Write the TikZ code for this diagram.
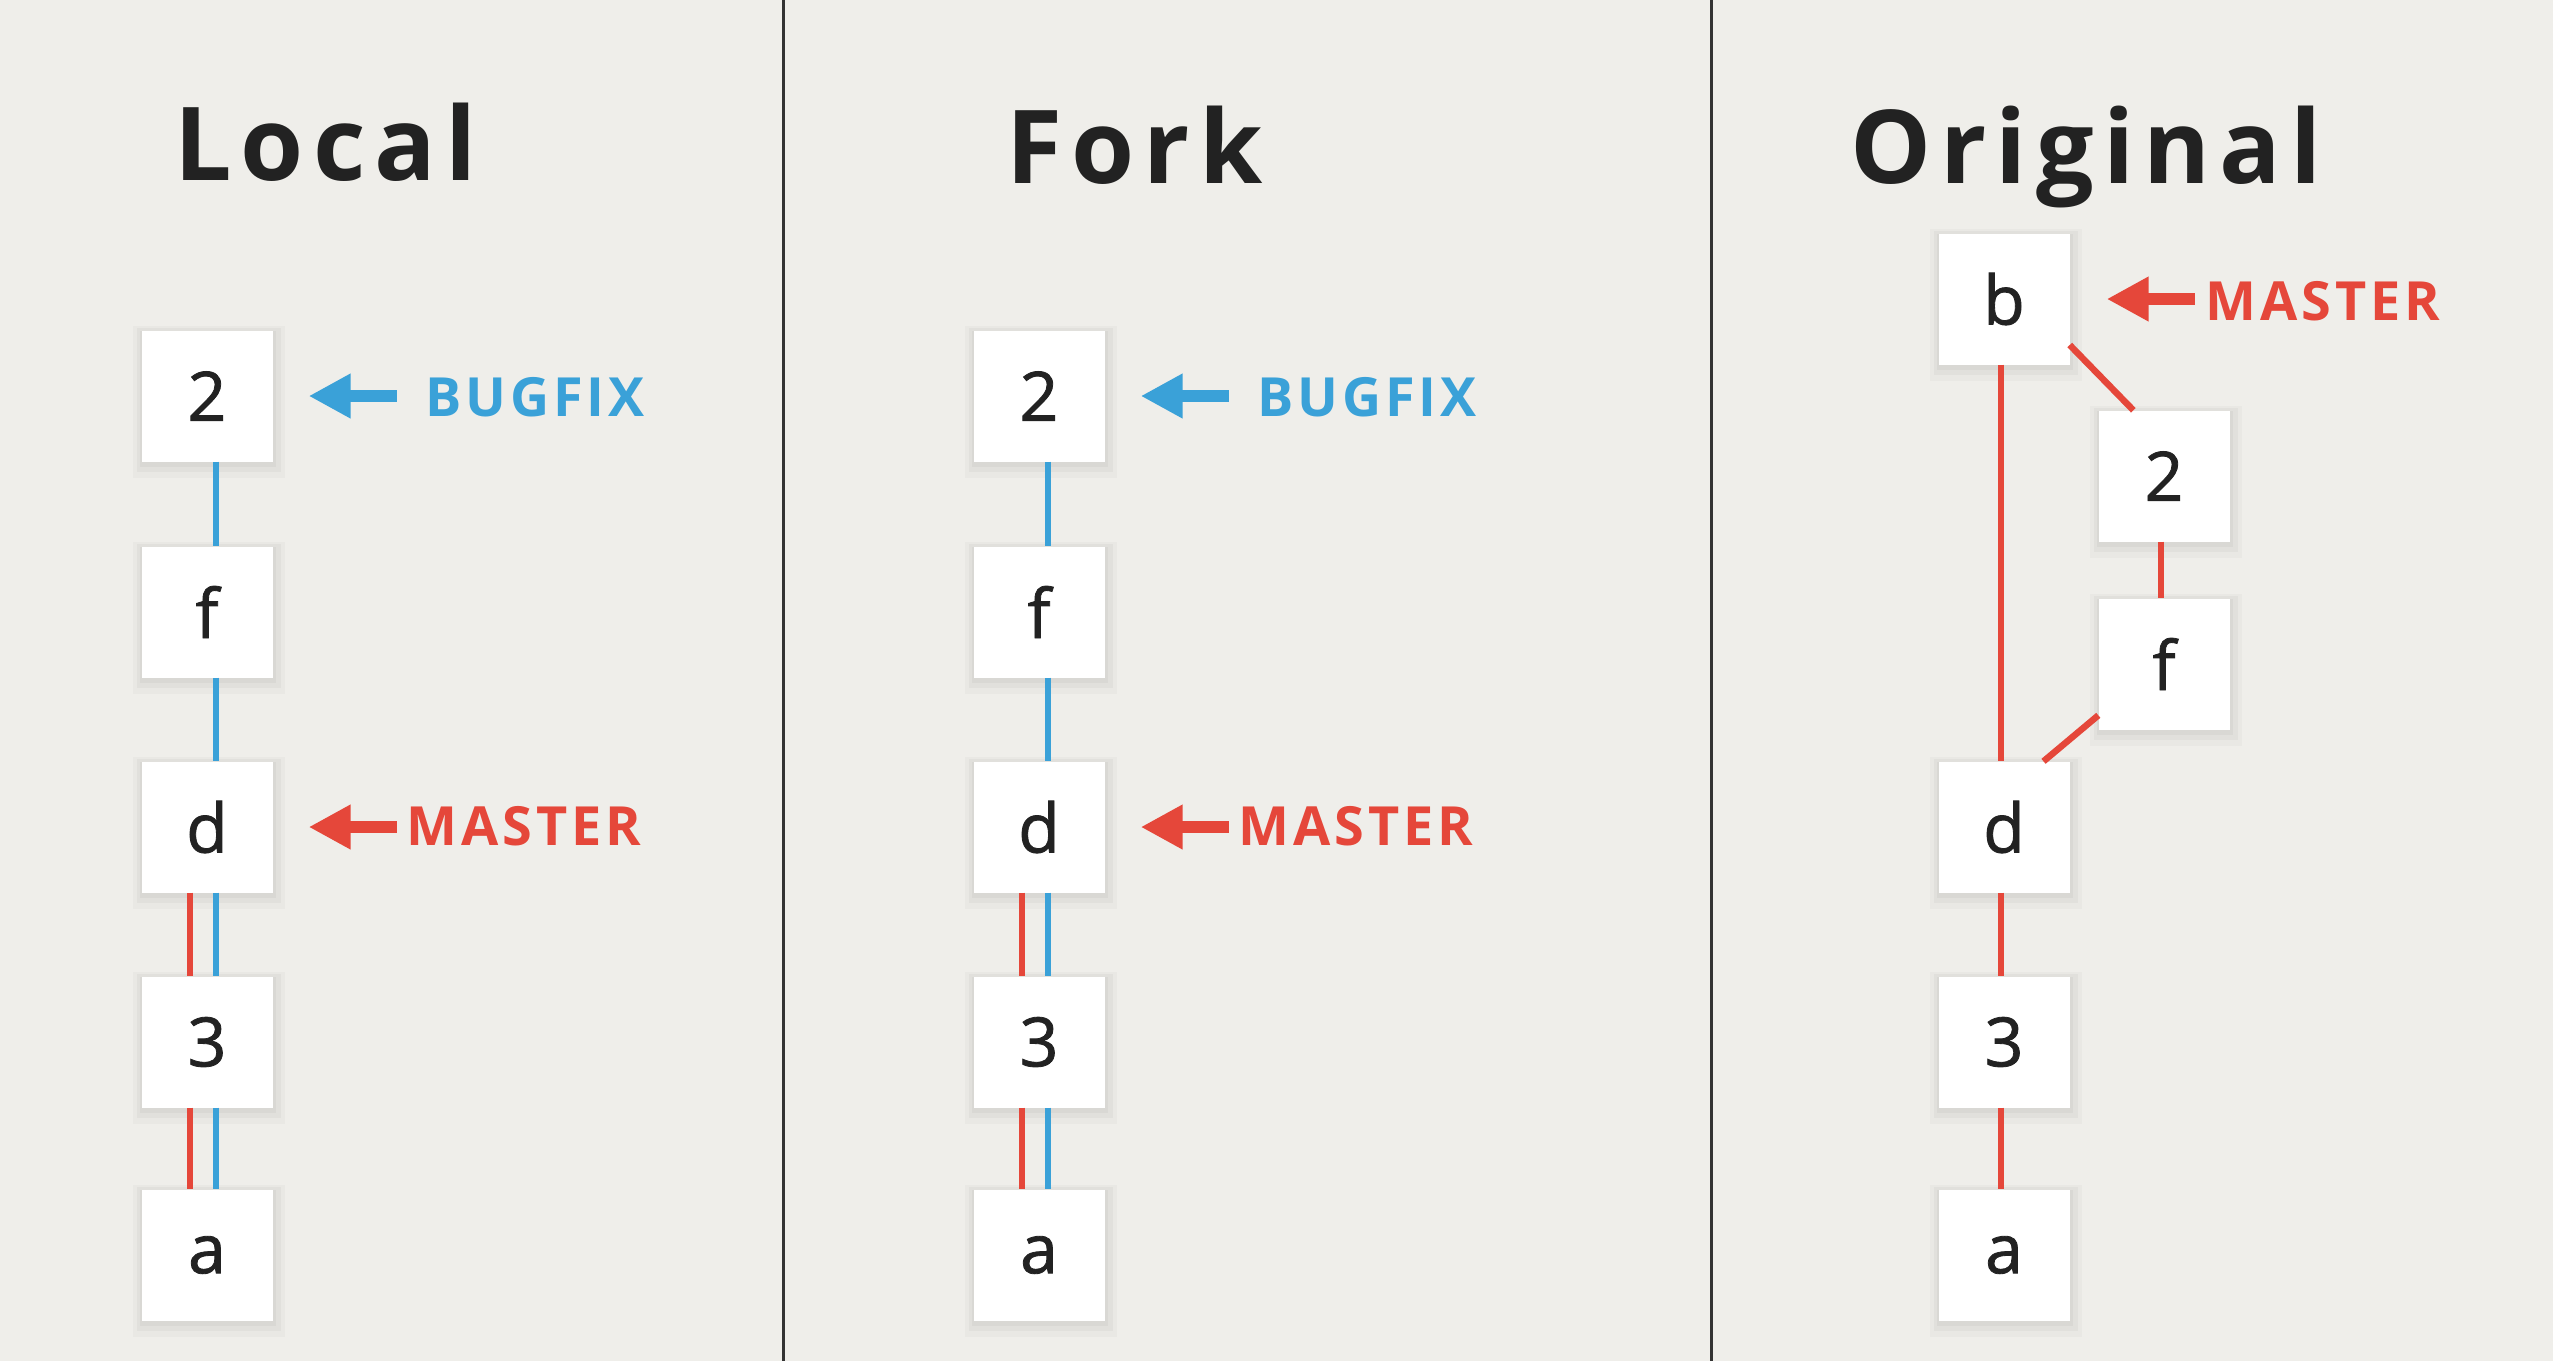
\documentclass[tikz,border=0pt]{standalone}
\usepackage{fontspec}
\setmainfont{Open Sans}
\newfontfamily\titlefont[LetterSpace=9]{Open Sans}
\newfontfamily\labelfont[LetterSpace=7]{Open Sans}
\newfontfamily\commitfont[FakeBold=1.2]{Open Sans}
\usetikzlibrary{arrows.meta,shadows,calc}
\definecolor{bg}{HTML}{EFEEEA}
\definecolor{ink}{HTML}{222222}
\definecolor{gblue}{HTML}{3AA1D8}
\definecolor{gred}{HTML}{E5473A}
\definecolor{divc}{HTML}{333333}
\tikzset{
  commit/.style={fill=white, minimum size=131pt, inner sep=0pt, text=ink,
    font=\commitfont\fontsize{68}{80}\selectfont,
    drop shadow={shadow xshift=2pt, shadow yshift=-5pt, opacity=0.025, fill=black, shadow scale=1.16},
    drop shadow={shadow xshift=2pt, shadow yshift=-4pt, opacity=0.03, fill=black, shadow scale=1.10},
    drop shadow={shadow xshift=1pt, shadow yshift=-3pt, opacity=0.035, fill=black, shadow scale=1.04}},
  bline/.style={line width=6.5pt, draw=gblue},
  rline/.style={line width=6.5pt, draw=gred},
  barr/.style={line width=12pt, draw=gblue, -{Triangle[length=42pt,width=42pt]}},
  rarr/.style={line width=12pt, draw=gred, -{Triangle[length=42pt,width=42pt]}},
  title/.style={anchor=base west, inner sep=0pt, text=ink, font=\titlefont\bfseries\fontsize{102}{120}\selectfont},
  blab/.style={anchor=base west, inner sep=0pt, text=gblue, font=\labelfont\bfseries\fontsize{54}{66}\selectfont},
  rlab/.style={anchor=base west, inner sep=0pt, text=gred, font=\labelfont\bfseries\fontsize{54}{66}\selectfont},
  divider/.style={line width=3pt, draw=divc}
}
\begin{document}
\begin{tikzpicture}[x=1pt, y=-1pt]
\useasboundingbox (0,0) rectangle (2553,1361);
\fill[bg] (0,0) rectangle (2553,1361);
\draw[divider] (783,0) -- (783,1361);
\draw[divider] (1711,0) -- (1711,1361);

% titles
\node[title] (tL) at (174,180) {Local};
\node[title] (tF) at (1006,183) {Fork};
\node[title] (tO) at (1850,183) {Original};

% Local
\node[commit] (L2) at (207,396) {2};
\node[commit] (Lf) at (207,612) {f};
\node[commit] (Ld) at (207,827) {d};
\node[commit] (L3) at (207,1042) {3};
\node[commit] (La) at (207,1255) {a};
\draw[bline] ([xshift=9pt]L2.south) -- ([xshift=9pt]Lf.north);
\draw[bline] ([xshift=9pt]Lf.south) -- ([xshift=9pt]Ld.north);
\draw[bline] ([xshift=9pt]Ld.south) -- ([xshift=9pt]L3.north);
\draw[bline] ([xshift=9pt]L3.south) -- ([xshift=9pt]La.north);
\draw[rline] ([xshift=-17pt]Ld.south) -- ([xshift=-17pt]L3.north);
\draw[rline] ([xshift=-17pt]L3.south) -- ([xshift=-17pt]La.north);
\node[blab] (Lbug) at ([xshift=153pt,yshift=-20pt]L2.east) {BUGFIX};
\draw[barr] ([xshift=124pt]L2.east) -- ([xshift=36pt]L2.east);
\node[rlab] (Lmas) at ([xshift=134pt,yshift=-18pt]Ld.east) {MASTER};
\draw[rarr] ([xshift=124pt]Ld.east) -- ([xshift=36pt]Ld.east);

% Fork
\node[commit] (M2) at (1039,396) {2};
\node[commit] (Mf) at (1039,612) {f};
\node[commit] (Md) at (1039,827) {d};
\node[commit] (M3) at (1039,1042) {3};
\node[commit] (Ma) at (1039,1255) {a};
\draw[bline] ([xshift=9pt]M2.south) -- ([xshift=9pt]Mf.north);
\draw[bline] ([xshift=9pt]Mf.south) -- ([xshift=9pt]Md.north);
\draw[bline] ([xshift=9pt]Md.south) -- ([xshift=9pt]M3.north);
\draw[bline] ([xshift=9pt]M3.south) -- ([xshift=9pt]Ma.north);
\draw[rline] ([xshift=-17pt]Md.south) -- ([xshift=-17pt]M3.north);
\draw[rline] ([xshift=-17pt]M3.south) -- ([xshift=-17pt]Ma.north);
\node[blab] (Mbug) at ([xshift=153pt,yshift=-20pt]M2.east) {BUGFIX};
\draw[barr] ([xshift=124pt]M2.east) -- ([xshift=36pt]M2.east);
\node[rlab] (Mmas) at ([xshift=134pt,yshift=-18pt]Md.east) {MASTER};
\draw[rarr] ([xshift=124pt]Md.east) -- ([xshift=36pt]Md.east);

% Original
\node[commit] (Rb) at (2004,299) {b};
\node[commit] (R2) at (2164,476) {2};
\node[commit] (Rf) at (2164,664) {f};
\node[commit] (Rd) at (2004,827) {d};
\node[commit] (R3) at (2004,1042) {3};
\node[commit] (Ra) at (2004,1255) {a};
\draw[rline] ([xshift=-3pt]Rb.south) -- ([xshift=-3pt]Rd.north);
\draw[rline] (Rb.-35) -- (R2.115);
\draw[rline] ([xshift=-3pt]R2.south) -- ([xshift=-3pt]Rf.north);
\draw[rline] (Rf.218) -- (Rd.59);
\draw[rline] ([xshift=-3pt]Rd.south) -- ([xshift=-3pt]R3.north);
\draw[rline] ([xshift=-3pt]R3.south) -- ([xshift=-3pt]Ra.north);
\node[rlab] (Rmas) at ([xshift=136pt,yshift=-21pt]Rb.east) {MASTER};
\draw[rarr] ([xshift=125pt]Rb.east) -- ([xshift=37pt]Rb.east);
\end{tikzpicture}
\end{document}
